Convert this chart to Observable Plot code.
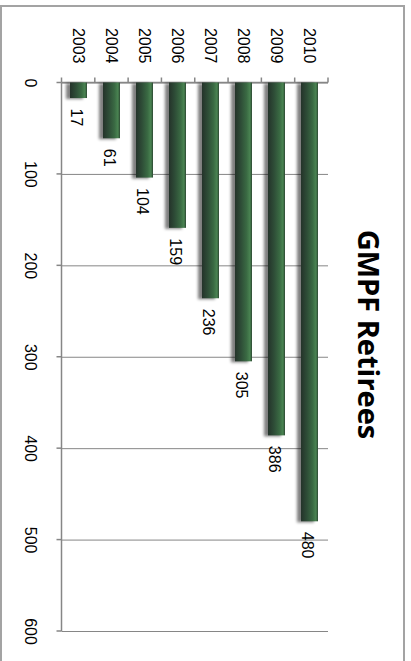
<!DOCTYPE html>
<html><head><meta charset="utf-8">
<script src="https://cdn.jsdelivr.net/npm/d3@7"></script>
<script src="https://cdn.jsdelivr.net/npm/@observablehq/plot@0.6"></script>
<style>
html,body{margin:0;padding:0;background:#fff;overflow:hidden;width:411px;height:661px;}
#stage{position:absolute;left:0;top:0;width:661px;height:411px;transform-origin:0 0;transform:translate(411px,0) rotate(90deg);}
#border{position:absolute;left:4.5px;top:6px;width:720px;height:405px;border:2px solid #a3a3a3;box-sizing:border-box;}
#chart{position:absolute;left:0;top:0;}
</style></head><body>
<div id="stage"><div id="border"></div><div id="chart"></div></div>
<script>
const title = "GMPF Retirees";
const years = ["2003","2004","2005","2006","2007","2008","2009","2010"];
const retirees = [17, 61, 104, 159, 236, 305, 386, 480];
const valueTicks = [0, 100, 200, 300, 400, 500, 600];

const data = years.map((year, i) => ({year, value: retirees[i]}));

const W = 661, H = 411;
const mL = 82.5, mR = 30, mT = 83, mB = 61.5;
const grid = "#868686";
const NS = "http://www.w3.org/2000/svg";

function defs() {
  const d = document.createElementNS(NS, "defs");
  d.innerHTML = `
    <linearGradient id="barGrad" x1="0" y1="0" x2="0" y2="1">
      <stop offset="0" stop-color="#2b4631"/>
      <stop offset="0.12" stop-color="#4a8452"/>
      <stop offset="0.32" stop-color="#3a6a43"/>
      <stop offset="0.65" stop-color="#2e4d37"/>
      <stop offset="1" stop-color="#24332a"/>
    </linearGradient>
    <filter id="blur" x="-20%" y="-50%" width="140%" height="200%">
      <feGaussianBlur stdDeviation="1.6"/>
    </filter>`;
  return d;
}

// axis lines, value ticks, and tick marks at the category band boundaries
function axisLines(index, scales, values, dim) {
  const g = document.createElementNS(NS, "g");
  g.setAttribute("stroke", grid);
  g.setAttribute("stroke-width", "1.5");
  const x0 = dim.marginLeft, x1 = dim.width - dim.marginRight;
  const y0 = dim.marginTop, y1 = dim.height - dim.marginBottom;
  const n = years.length, step = (y1 - y0) / n;
  const line = (a, b, c, d) => {
    const l = document.createElementNS(NS, "line");
    l.setAttribute("x1", a); l.setAttribute("y1", b);
    l.setAttribute("x2", c); l.setAttribute("y2", d);
    g.appendChild(l);
  };
  line(x0, y0, x0, y1);
  line(x0, y1, x1, y1);
  for (let k = 0; k <= n; k++) line(x0 - 5, y0 + k * step, x0, y0 + k * step);
  for (const v of valueTicks) { const x = scales.x(v); line(x, y1, x, y1 + 5); }
  return g;
}

const chart = Plot.plot({
  width: W, height: H,
  marginLeft: mL, marginRight: mR, marginTop: mT, marginBottom: mB,
  style: {fontFamily: "'Liberation Sans', Arial, sans-serif", fontSize: "16px", color: "#000", background: "transparent", overflow: "visible"},
  x: {domain: [0, 600], ticks: valueTicks, tickSize: 0, tickPadding: 25, label: null},
  y: {domain: years.slice().reverse(), paddingInner: 0.5, paddingOuter: 0.25, tickSize: 0, tickPadding: 19.5, label: null},
  marks: [
    defs,
    Plot.ruleX(valueTicks, {stroke: grid, strokeWidth: 1}),
    axisLines,
    Plot.barX(data, {x: "value", y: "year", fill: "#000", fillOpacity: 0.5, dy: 3, dx: 1, insetTop: 1, insetBottom: -1}),
    Plot.barX(data, {x: "value", y: "year", fill: "url(#barGrad)"}),
    Plot.text(data, {x: "value", y: "year", text: d => String(d.value), textAnchor: "start", dx: 10, dy: 2, fontSize: 16, fill: "#000"}),
    Plot.text([title], {frameAnchor: "top", dx: -22.75, dy: -40, lineAnchor: "middle", fontSize: 29, fontWeight: "bold", fontFamily: "'Open Sans', sans-serif", fill: "#000"})
  ]
});
// blurred shadow under the bars
const gs = chart.querySelectorAll("g[aria-label='bar']");
if (gs.length) gs[0].setAttribute("filter", "url(#blur)");
document.getElementById("chart").appendChild(chart);
</script>
</body></html>
